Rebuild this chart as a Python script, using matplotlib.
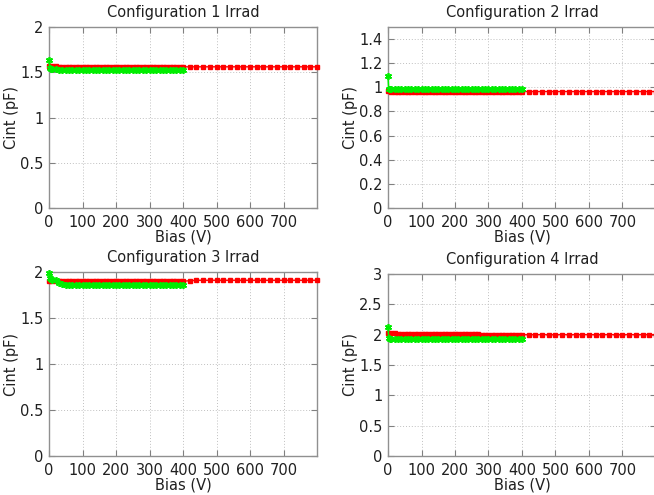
import matplotlib
matplotlib.use("Agg")
import matplotlib.pyplot as plt

# bias steps (V) for the two sensor runs
red_bias = [0, 10, 20, 30, 40, 50, 60, 70, 80, 90, 100, 110, 120, 130, 140, 150,
            160, 170, 180, 190, 200, 210, 220, 230, 240, 250, 260, 270, 280, 290,
            300, 310, 320, 330, 340, 350, 360, 370, 380, 390, 400, 420, 440, 460,
            480, 500, 520, 540, 560, 580, 600, 620, 640, 660, 680, 700, 720, 740,
            760, 780, 800]
green_bias = [0, 2, 5, 10, 20, 30, 40, 50, 60, 70, 80, 90, 100, 110, 120, 130, 140,
              150, 160, 170, 180, 190, 200, 210, 220, 230, 240, 250, 260, 270, 280,
              290, 300, 310, 320, 330, 340, 350, 360, 370, 380, 390, 400]

# Cint (pF), configuration 1
c1_red = [1.57, 1.57, 1.57, 1.56, 1.56, 1.56, 1.56, 1.56, 1.56, 1.56, 1.56, 1.56,
          1.56, 1.56, 1.56, 1.56, 1.56, 1.56, 1.56, 1.56, 1.56, 1.56, 1.56, 1.56,
          1.56, 1.56, 1.56, 1.56, 1.56, 1.56, 1.56, 1.56, 1.56, 1.56, 1.56, 1.56,
          1.56, 1.56, 1.56, 1.56, 1.56, 1.56, 1.56, 1.56, 1.56, 1.56, 1.56, 1.56,
          1.56, 1.56, 1.56, 1.56, 1.56, 1.56, 1.56, 1.56, 1.56, 1.56, 1.56, 1.56,
          1.56]
c1_green = [1.64, 1.55, 1.54, 1.54, 1.54, 1.53, 1.53, 1.53, 1.53, 1.53, 1.53, 1.53,
            1.53, 1.53, 1.53, 1.53, 1.53, 1.53, 1.53, 1.53, 1.53, 1.53, 1.53, 1.53,
            1.53, 1.53, 1.53, 1.53, 1.53, 1.53, 1.53, 1.53, 1.53, 1.53, 1.53, 1.53,
            1.53, 1.53, 1.53, 1.53, 1.53, 1.53, 1.53]

# configuration 2
c2_red = [0.97, 0.965, 0.965, 0.965, 0.965, 0.965, 0.965, 0.965, 0.965, 0.965,
          0.965, 0.965, 0.965, 0.965, 0.965, 0.965, 0.965, 0.965, 0.965, 0.965,
          0.965, 0.965, 0.965, 0.965, 0.965, 0.965, 0.965, 0.965, 0.965, 0.965,
          0.965, 0.965, 0.965, 0.965, 0.965, 0.965, 0.965, 0.965, 0.965, 0.965,
          0.965, 0.965, 0.965, 0.965, 0.965, 0.965, 0.965, 0.965, 0.965, 0.965,
          0.965, 0.965, 0.965, 0.965, 0.965, 0.965, 0.965, 0.965, 0.965, 0.965,
          0.965]
c2_green = [1.09, 0.99, 0.985, 0.985, 0.985, 0.985, 0.985, 0.985, 0.985, 0.985,
            0.985, 0.985, 0.985, 0.985, 0.985, 0.985, 0.985, 0.985, 0.985, 0.985,
            0.985, 0.985, 0.985, 0.985, 0.985, 0.985, 0.985, 0.985, 0.985, 0.985,
            0.985, 0.985, 0.985, 0.985, 0.985, 0.985, 0.985, 0.985, 0.985, 0.985,
            0.985, 0.985, 0.985]

# configuration 3
c3_red = [1.90, 1.90, 1.90, 1.90, 1.90, 1.90, 1.90, 1.90, 1.90, 1.90, 1.90, 1.90,
          1.90, 1.90, 1.90, 1.90, 1.90, 1.90, 1.90, 1.90, 1.90, 1.90, 1.90, 1.90,
          1.90, 1.90, 1.90, 1.90, 1.90, 1.90, 1.90, 1.90, 1.90, 1.90, 1.90, 1.90,
          1.90, 1.90, 1.90, 1.90, 1.90, 1.905, 1.91, 1.91, 1.91, 1.91, 1.91, 1.91,
          1.91, 1.91, 1.91, 1.91, 1.91, 1.91, 1.91, 1.91, 1.91, 1.91, 1.91, 1.91,
          1.91]
c3_green = [1.99, 1.93, 1.92, 1.91, 1.91, 1.88, 1.865, 1.86, 1.86, 1.86, 1.86, 1.86,
            1.86, 1.86, 1.86, 1.86, 1.86, 1.86, 1.86, 1.86, 1.86, 1.86, 1.86, 1.86,
            1.86, 1.86, 1.86, 1.86, 1.86, 1.86, 1.86, 1.86, 1.86, 1.855, 1.855,
            1.855, 1.855, 1.855, 1.855, 1.855, 1.855, 1.855, 1.855]

# configuration 4
c4_red = [2.03, 2.02, 2.02, 2.01, 2.01, 2.01, 2.01, 2.01, 2.01, 2.01, 2.01, 2.01,
          2.01, 2.01, 2.01, 2.01, 2.01, 2.01, 2.01, 2.01, 2.01, 2.01, 2.01, 2.01,
          2.01, 2.01, 2.01, 2.01, 2.00, 2.00, 2.00, 2.00, 2.00, 2.00, 2.00, 2.00,
          2.00, 2.00, 2.00, 2.00, 2.00, 2.00, 2.00, 2.00, 2.00, 2.00, 2.00, 2.00,
          2.00, 2.00, 2.00, 2.00, 2.00, 2.00, 2.00, 2.00, 2.00, 2.00, 2.00, 2.00,
          2.00]
c4_green = [2.13, 1.95, 1.935, 1.93, 1.93, 1.93, 1.93, 1.93, 1.93, 1.93, 1.93, 1.93,
            1.93, 1.93, 1.93, 1.93, 1.93, 1.93, 1.93, 1.93, 1.93, 1.93, 1.93, 1.93,
            1.93, 1.93, 1.93, 1.93, 1.93, 1.93, 1.93, 1.93, 1.93, 1.93, 1.93, 1.93,
            1.93, 1.93, 1.93, 1.93, 1.93, 1.93, 1.93]

titles = ["Configuration 1 Irrad", "Configuration 2 Irrad",
          "Configuration 3 Irrad", "Configuration 4 Irrad"]
red_series = [c1_red, c2_red, c3_red, c4_red]
green_series = [c1_green, c2_green, c3_green, c4_green]
y_limits = [(0, 2), (0, 1.5), (0, 2), (0, 3)]
y_steps = [0.5, 0.2, 0.5, 0.5]
x_ticks = [0, 100, 200, 300, 400, 500, 600, 700]

W, H = 654, 495
# axes boxes in pixels: left, top, right, bottom
boxes = [(49, 27, 317, 208), (388, 27, 656, 208),
         (49, 272, 317, 456), (388, 274, 656, 456)]

plt.rcParams['font.family'] = 'DejaVu Sans'
plt.rcParams['font.size'] = 10

fig = plt.figure(figsize=(W / 100.0, H / 100.0), dpi=100)

for i in range(4):
    l, t, r, b = boxes[i]
    ax = fig.add_axes([l / W, 1 - b / H, (r - l) / W, (b - t) / H])

    ax.plot(red_bias, red_series[i], color='#ff0000', lw=1.0, marker='s',
            ms=3.3, mec='#ff0000', mfc='#ff0000', clip_on=False, zorder=3)
    ax.plot(green_bias, green_series[i], color='#00ee00', lw=1.1,
            marker=(6, 2, 0), ms=5, mew=1.2, mec='#00ee00', clip_on=False,
            zorder=4)

    ax.set_xlim(0, 800)
    ax.set_ylim(*y_limits[i])
    ax.set_xticks(x_ticks)
    lo, hi = y_limits[i]
    step = y_steps[i]
    n = int(round((hi - lo) / step))
    yt = [round(lo + k * step, 2) for k in range(n + 1)]
    if i == 1:
        yt = yt[:-1]
    ax.set_yticks(yt)
    ax.set_yticklabels(['%g' % v for v in yt])

    ax.grid(True, color='#c0c0c0', linestyle=(0, (1, 2)), linewidth=0.7)
    ax.set_axisbelow(True)
    for s in ax.spines.values():
        s.set_color('#909090')
        s.set_linewidth(1.0)
    ax.tick_params(direction='in', length=4, width=0.8, color='#808080',
                   top=True, right=True, labelsize=10.5,
                   labelcolor='#202020')
    ax.tick_params(axis='x', pad=5)
    ax.tick_params(axis='y', pad=4)

    ax.set_title(titles[i], fontsize=10.5, pad=7, color='#202020')
    ax.set_xlabel('Bias (V)', fontsize=10.5, labelpad=0, color='#202020')
    ax.set_ylabel('Cint (pF)', fontsize=10.5, labelpad=1, color='#202020')

fig.savefig('out.png', dpi=100)
